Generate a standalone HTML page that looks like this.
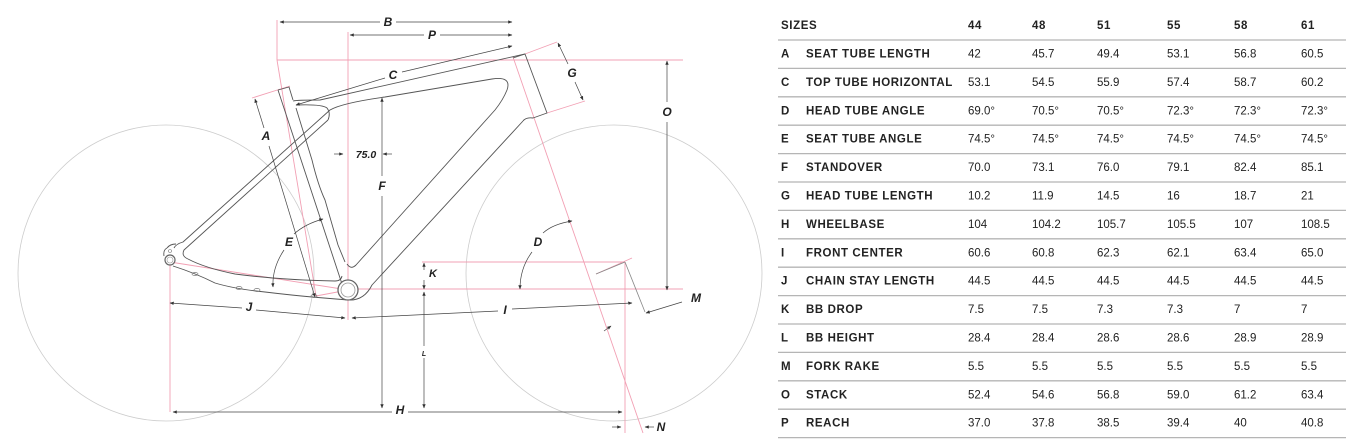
<!DOCTYPE html>
<html><head><meta charset="utf-8"><style>
html,body{margin:0;padding:0;background:#fff;width:1346px;height:441px;overflow:hidden}
svg{display:block}
.t{font-family:"Liberation Sans",sans-serif;font-size:11.5px;fill:#222}
.b{font-weight:bold;letter-spacing:0.6px}
.lb{font-family:"Liberation Sans",sans-serif;font-weight:bold;font-style:italic;font-size:12px;fill:#222}
</style></head><body>
<svg width="1346" height="441" viewBox="0 0 1346 441" xmlns="http://www.w3.org/2000/svg">
<defs>
<marker id="a" viewBox="0 0 10 10" refX="9" refY="5" markerWidth="6" markerHeight="6" orient="auto-start-reverse"><path d="M0,1 L10,5 L0,9 z" fill="#333"/></marker>
</defs>
<circle cx="166" cy="273" r="148" fill="none" stroke="#ccc" stroke-width="0.8"/>
<circle cx="614" cy="273" r="148" fill="none" stroke="#ccc" stroke-width="0.8"/>
<g stroke="#f2a0b4" stroke-width="0.9" fill="none">
<line x1="277" y1="20" x2="277" y2="60"/>
<line x1="277" y1="60" x2="683" y2="60"/>
<line x1="277" y1="60" x2="316" y2="296"/>
<line x1="348" y1="32" x2="348" y2="320"/>
<line x1="348" y1="289" x2="683" y2="289"/>
<line x1="422" y1="262" x2="625" y2="262"/>
<line x1="513" y1="57" x2="643" y2="433"/>
<line x1="625" y1="262" x2="625" y2="433"/>
<line x1="170" y1="262" x2="170" y2="412"/>
<line x1="170" y1="262" x2="348" y2="290"/>
<line x1="252" y1="98" x2="290" y2="86"/>
<line x1="525" y1="54" x2="557" y2="42"/>
<line x1="547" y1="113" x2="585" y2="101"/>
<line x1="596" y1="274" x2="632" y2="258"/>
<line x1="348" y1="290" x2="316" y2="296"/>
</g>
<g stroke="#555" stroke-width="0.9" fill="none" stroke-linejoin="round">
<path d="M278,90 L289,87 L293,100"/>
<line x1="278" y1="90" x2="342" y2="284"/>
<path d="M296,108 L312,160 Q318,185 325,200 L338,245 L345,262"/>
<path d="M293,101 Q297,100 320,100 L525,54"/>
<path d="M174,248 Q176,244 183,242 L330,110 Q342,103 385,97 L492,79 Q512,76 507,90 Q503,100 495,110 L356,265 Q351,270 347,264"/>
<path d="M296,105 Q322,104 327,108 Q331,113 328,120"/>
<path d="M513,58 L525,54 L547,113 L533,118 Q526,117 523,121"/>
<path d="M523,121 L372,285 Q364,301 348,300"/>
<path d="M328,120 L184,250 Q181,256 188,259"/>
<path d="M188,259 Q205,268 235,274 Q280,280 335,281 Q341,281 342,276"/>
<path d="M167,248 Q170,244 176,244 M164,256 Q163,250 167,248"/>
<path d="M173,266 Q195,273 215,283 Q235,289 265,292 Q290,295 312,297 L348,300"/>
</g>
<circle cx="170" cy="251" r="1.5" fill="none" stroke="#777" stroke-width="0.6"/>
<circle cx="348" cy="290" r="10" fill="#fff" stroke="#666" stroke-width="1.3"/>
<circle cx="348" cy="290" r="7" fill="none" stroke="#999" stroke-width="0.8"/>
<circle cx="170" cy="260" r="5" fill="#fff" stroke="#666" stroke-width="1.2"/>
<circle cx="170" cy="260" r="3" fill="none" stroke="#999" stroke-width="0.6"/>
<g fill="none" stroke="#777" stroke-width="0.7">
<ellipse cx="195" cy="274" rx="3" ry="1.5"/><ellipse cx="239" cy="288" rx="3" ry="1.5"/><ellipse cx="257" cy="290" rx="3" ry="1.5"/><ellipse cx="314" cy="296" rx="3" ry="1.5"/>
</g>
<line x1="625" y1="262" x2="596" y2="274" stroke="#888" stroke-width="0.8"/>
<line x1="625" y1="262" x2="645" y2="312" stroke="#888" stroke-width="0.8"/>
<g stroke="#444" stroke-width="0.7" fill="none">
<line x1="280" y1="22" x2="380" y2="22" marker-start="url(#a)"/><line x1="396" y1="22" x2="512" y2="22" marker-end="url(#a)"/>
<line x1="350" y1="35" x2="424" y2="35" marker-start="url(#a)"/><line x1="440" y1="35" x2="512" y2="35" marker-end="url(#a)"/>
<line x1="296" y1="105" x2="385" y2="78" marker-start="url(#a)"/><line x1="402" y1="72" x2="512" y2="46" marker-end="url(#a)"/>
<line x1="558" y1="43" x2="568" y2="64" marker-start="url(#a)"/><line x1="575" y1="82" x2="583" y2="100" marker-end="url(#a)"/>
<line x1="667" y1="61" x2="667" y2="102" marker-start="url(#a)"/><line x1="667" y1="122" x2="667" y2="290" marker-end="url(#a)"/>
<line x1="255" y1="99" x2="264" y2="128" marker-start="url(#a)"/><line x1="269" y1="146" x2="315" y2="297" marker-end="url(#a)"/>
<line x1="334" y1="154" x2="343" y2="154" marker-end="url(#a)"/><line x1="392" y1="154" x2="383" y2="154" marker-end="url(#a)"/>
<line x1="382" y1="98" x2="382" y2="176" marker-start="url(#a)"/><line x1="382" y1="196" x2="382" y2="408" marker-end="url(#a)"/>
<path d="M294,234 Q305,224 323,219" marker-end="url(#a)"/><path d="M284,250 Q272,268 273,287" marker-end="url(#a)"/>
<path d="M543,233 Q553,224 572,221" marker-end="url(#a)"/><path d="M532,252 Q520,268 520,289" marker-end="url(#a)"/>
<line x1="424" y1="270" x2="424" y2="263" marker-end="url(#a)"/><line x1="424" y1="280" x2="424" y2="289" marker-end="url(#a)"/>
<line x1="424" y1="292" x2="424" y2="346" marker-start="url(#a)"/><line x1="424" y1="358" x2="424" y2="408" marker-end="url(#a)"/>
<line x1="170" y1="303" x2="242" y2="308" marker-start="url(#a)"/><line x1="256" y1="310" x2="345" y2="318" marker-end="url(#a)"/>
<line x1="352" y1="318" x2="498" y2="311" marker-start="url(#a)"/><line x1="512" y1="309" x2="632" y2="303" marker-end="url(#a)"/>
<line x1="173" y1="412" x2="392" y2="412" marker-start="url(#a)"/><line x1="408" y1="412" x2="622" y2="412" marker-end="url(#a)"/>
<line x1="682" y1="302" x2="646" y2="313" marker-end="url(#a)"/>
<line x1="612" y1="427" x2="621" y2="427" marker-end="url(#a)"/><line x1="654" y1="427" x2="645" y2="427" marker-end="url(#a)"/>
<line x1="604" y1="331" x2="611" y2="326" marker-end="url(#a)"/>
</g>
<g class="lb" text-anchor="middle">
<text x="388" y="26">B</text><text x="432" y="39">P</text><text x="393" y="79">C</text><text x="572" y="77">G</text>
<text x="667" y="116">O</text><text x="266" y="140">A</text><text x="366" y="158" font-size="10.5">75.0</text>
<text x="382" y="190">F</text><text x="289" y="246">E</text><text x="538" y="246">D</text><text x="433" y="277" font-size="11">K</text>
<text x="249" y="311">J</text><text x="505" y="314">I</text><text x="424" y="356" font-size="7">L</text><text x="400" y="414">H</text>
<text x="696" y="302">M</text><text x="661" y="431">N</text>
</g>
<g stroke="#b5b5b5" stroke-width="1.3">
<line x1="778" y1="40" x2="1346" y2="40"/><line x1="778" y1="68.4" x2="1346" y2="68.4"/><line x1="778" y1="96.8" x2="1346" y2="96.8"/>
<line x1="778" y1="125.2" x2="1346" y2="125.2"/><line x1="778" y1="153.6" x2="1346" y2="153.6"/><line x1="778" y1="182" x2="1346" y2="182"/>
<line x1="778" y1="210.4" x2="1346" y2="210.4"/><line x1="778" y1="238.8" x2="1346" y2="238.8"/><line x1="778" y1="267.2" x2="1346" y2="267.2"/>
<line x1="778" y1="295.6" x2="1346" y2="295.6"/><line x1="778" y1="324" x2="1346" y2="324"/><line x1="778" y1="352.4" x2="1346" y2="352.4"/>
<line x1="778" y1="380.8" x2="1346" y2="380.8"/><line x1="778" y1="409.2" x2="1346" y2="409.2"/><line x1="778" y1="437.6" x2="1346" y2="437.6"/>
</g>
<g class="t">
<text class="b" x="781" y="29">SIZES</text>
<text class="b" x="968" y="29">44</text><text class="b" x="1032" y="29">48</text><text class="b" x="1097" y="29">51</text><text class="b" x="1167" y="29">55</text><text class="b" x="1234" y="29">58</text><text class="b" x="1301" y="29">61</text>
</g>
<g class="t">
<g transform="translate(0,57.5)"><text class="b" x="781">A</text><text class="b" x="806">SEAT TUBE LENGTH</text><text x="968">42</text><text x="1032">45.7</text><text x="1097">49.4</text><text x="1167">53.1</text><text x="1234">56.8</text><text x="1301">60.5</text></g>
<g transform="translate(0,85.9)"><text class="b" x="781">C</text><text class="b" x="806">TOP TUBE HORIZONTAL</text><text x="968">53.1</text><text x="1032">54.5</text><text x="1097">55.9</text><text x="1167">57.4</text><text x="1234">58.7</text><text x="1301">60.2</text></g>
<g transform="translate(0,114.3)"><text class="b" x="781">D</text><text class="b" x="806">HEAD TUBE ANGLE</text><text x="968">69.0°</text><text x="1032">70.5°</text><text x="1097">70.5°</text><text x="1167">72.3°</text><text x="1234">72.3°</text><text x="1301">72.3°</text></g>
<g transform="translate(0,142.7)"><text class="b" x="781">E</text><text class="b" x="806">SEAT TUBE ANGLE</text><text x="968">74.5°</text><text x="1032">74.5°</text><text x="1097">74.5°</text><text x="1167">74.5°</text><text x="1234">74.5°</text><text x="1301">74.5°</text></g>
<g transform="translate(0,171.1)"><text class="b" x="781">F</text><text class="b" x="806">STANDOVER</text><text x="968">70.0</text><text x="1032">73.1</text><text x="1097">76.0</text><text x="1167">79.1</text><text x="1234">82.4</text><text x="1301">85.1</text></g>
<g transform="translate(0,199.5)"><text class="b" x="781">G</text><text class="b" x="806">HEAD TUBE LENGTH</text><text x="968">10.2</text><text x="1032">11.9</text><text x="1097">14.5</text><text x="1167">16</text><text x="1234">18.7</text><text x="1301">21</text></g>
<g transform="translate(0,227.9)"><text class="b" x="781">H</text><text class="b" x="806">WHEELBASE</text><text x="968">104</text><text x="1032">104.2</text><text x="1097">105.7</text><text x="1167">105.5</text><text x="1234">107</text><text x="1301">108.5</text></g>
<g transform="translate(0,256.3)"><text class="b" x="781">I</text><text class="b" x="806">FRONT CENTER</text><text x="968">60.6</text><text x="1032">60.8</text><text x="1097">62.3</text><text x="1167">62.1</text><text x="1234">63.4</text><text x="1301">65.0</text></g>
<g transform="translate(0,284.7)"><text class="b" x="781">J</text><text class="b" x="806">CHAIN STAY LENGTH</text><text x="968">44.5</text><text x="1032">44.5</text><text x="1097">44.5</text><text x="1167">44.5</text><text x="1234">44.5</text><text x="1301">44.5</text></g>
<g transform="translate(0,313.1)"><text class="b" x="781">K</text><text class="b" x="806">BB DROP</text><text x="968">7.5</text><text x="1032">7.5</text><text x="1097">7.3</text><text x="1167">7.3</text><text x="1234">7</text><text x="1301">7</text></g>
<g transform="translate(0,341.5)"><text class="b" x="781">L</text><text class="b" x="806">BB HEIGHT</text><text x="968">28.4</text><text x="1032">28.4</text><text x="1097">28.6</text><text x="1167">28.6</text><text x="1234">28.9</text><text x="1301">28.9</text></g>
<g transform="translate(0,369.9)"><text class="b" x="781">M</text><text class="b" x="806">FORK RAKE</text><text x="968">5.5</text><text x="1032">5.5</text><text x="1097">5.5</text><text x="1167">5.5</text><text x="1234">5.5</text><text x="1301">5.5</text></g>
<g transform="translate(0,398.3)"><text class="b" x="781">O</text><text class="b" x="806">STACK</text><text x="968">52.4</text><text x="1032">54.6</text><text x="1097">56.8</text><text x="1167">59.0</text><text x="1234">61.2</text><text x="1301">63.4</text></g>
<g transform="translate(0,426.7)"><text class="b" x="781">P</text><text class="b" x="806">REACH</text><text x="968">37.0</text><text x="1032">37.8</text><text x="1097">38.5</text><text x="1167">39.4</text><text x="1234">40</text><text x="1301">40.8</text></g>
</g>
</svg>
</body></html>
